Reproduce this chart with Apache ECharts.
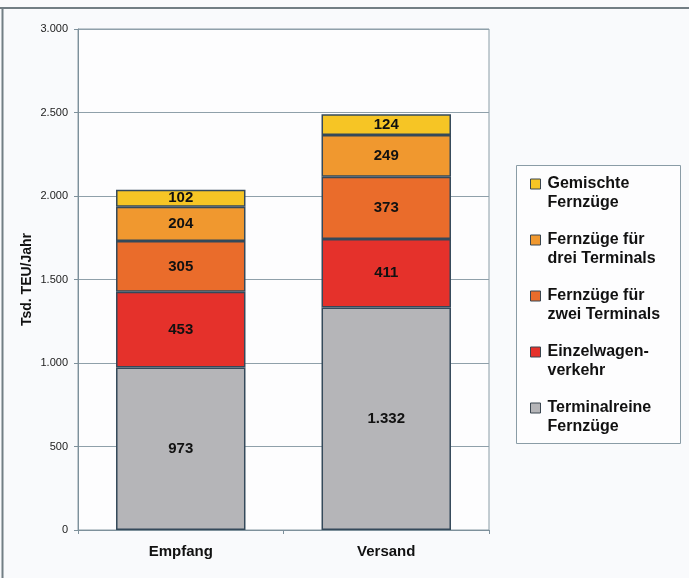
<!DOCTYPE html>
<html><head><meta charset="utf-8">
<script src="https://cdn.jsdelivr.net/npm/echarts@6/dist/echarts.min.js"></script>
<style>html,body{margin:0;padding:0;background:#f9fafc;}#c{width:689px;height:578px;}</style>
</head><body><div id="c"></div>
<script>
const categories = ['Empfang', 'Versand'];
const seriesNames = ['Terminalreine\nFernzüge', 'Einzelwagen-\nverkehr', 'Fernzüge für\nzwei Terminals', 'Fernzüge für\ndrei Terminals', 'Gemischte\nFernzüge'];
const terminalreine = [973, 1332];
const einzelwagen = [453, 411];
const zweiTerminals = [305, 373];
const dreiTerminals = [204, 249];
const gemischte = [102, 124];
const yTicks = [0, 500, 1000, 1500, 2000, 2500, 3000];
const colors = ['#b5b5b8', '#e5312b', '#ea6c2b', '#f0982f', '#f6c525'];

const values = [terminalreine, einzelwagen, zweiTerminals, dreiTerminals, gemischte];
const fmt = v => String(v).replace(/\B(?=(\d{3})+(?!\d))/g, '.');

const chart = echarts.init(document.getElementById('c'), null, {renderer: 'canvas'});
chart.setOption({
  backgroundColor: '#f9fafc',
  animation: false,
  textStyle: {fontFamily: 'Liberation Sans, Arial, sans-serif'},
  grid: {left: 78, right: 200, top: 29, bottom: 48, show: true, backgroundColor: '#fdfdfe', borderColor: '#8a9ca6', borderWidth: 1},
  graphic: [
    {type: 'line', shape: {x1: 0, y1: 8, x2: 689, y2: 8}, style: {stroke: '#727e84', lineWidth: 2}},
    {type: 'line', shape: {x1: 2.5, y1: 8, x2: 2.5, y2: 578}, style: {stroke: '#727e84', lineWidth: 2}},
    {type: 'rect', shape: {x: 516.5, y: 165.5, width: 164, height: 278}, style: {fill: '#fdfdfe', stroke: '#8a9ca6', lineWidth: 1}, z: -1}
  ],
  legend: {
    orient: 'vertical',
    left: 530,
    top: 174.5,
    padding: 0,
    itemGap: 18,
    itemWidth: 10,
    itemHeight: 29,
    data: seriesNames.slice().reverse().map(n => ({name: n, icon: 'path://M0,0h10v10h-10z M0,29h0'})),
    textStyle: {fontSize: 16, fontWeight: 'bold', color: '#111', lineHeight: 19, fontFamily: 'Liberation Sans, Arial, sans-serif', padding: [0, 0, 0, 2]},
    itemStyle: {borderColor: '#3a4650', borderWidth: 1}
  },
  xAxis: {
    type: 'category',
    data: categories,
    axisLine: {lineStyle: {color: '#7d909b', width: 1}},
    axisTick: {show: true, length: 4, lineStyle: {color: '#7d909b'}},
    axisLabel: {fontSize: 15, fontWeight: 'bold', color: '#111', margin: 14}
  },
  yAxis: {
    type: 'value',
    min: yTicks[0],
    max: yTicks[yTicks.length - 1],
    interval: 500,
    name: 'Tsd. TEU/Jahr',
    nameLocation: 'middle',
    nameGap: 44,
    nameMoveOverlap: false,
    nameTextStyle: {fontSize: 14, fontWeight: 'bold', color: '#111'},
    axisLine: {show: true, lineStyle: {color: '#7d909b'}},
    axisTick: {show: true, length: 4, lineStyle: {color: '#7d909b'}},
    axisLabel: {fontSize: 11, color: '#222', margin: 10, formatter: v => fmt(v)},
    splitLine: {lineStyle: {color: '#8fa0aa', width: 1}}
  },
  series: seriesNames.map((name, i) => ({
    name: name,
    type: 'bar',
    stack: 'total',
    barCategoryGap: '37%',
    data: values[i],
    itemStyle: {color: colors[i], borderColor: '#34495a', borderWidth: 1.5},
    label: {show: true, position: 'inside', fontSize: 15, fontWeight: 'bold', color: '#111', formatter: p => fmt(p.value)}
  }))
});
</script></body></html>
